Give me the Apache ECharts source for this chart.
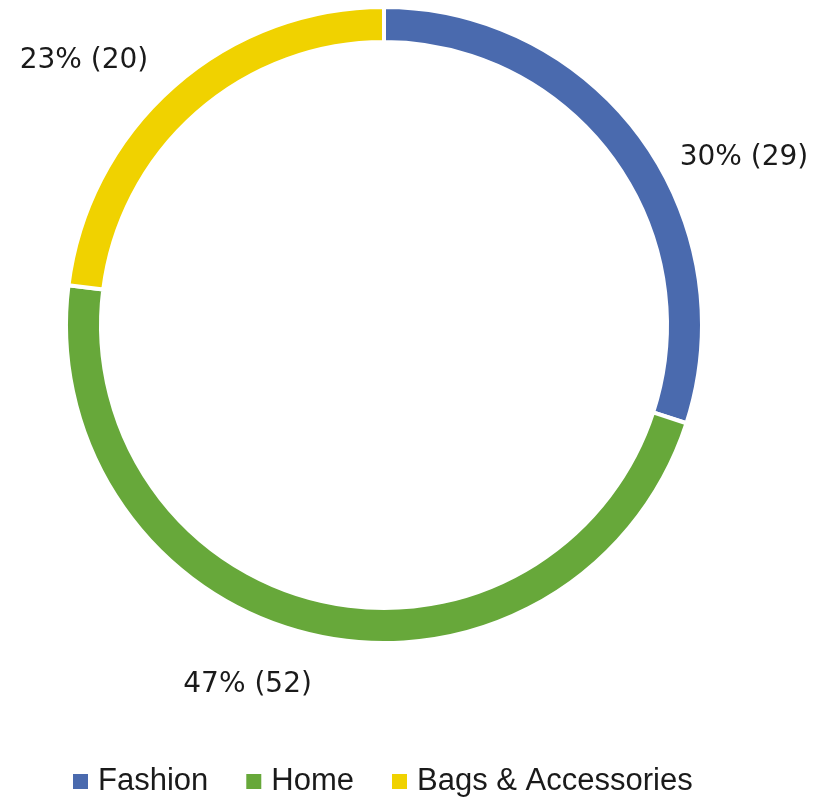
<!DOCTYPE html>
<html>
<head>
<meta charset="utf-8">
<script src="https://cdn.jsdelivr.net/npm/echarts@6/dist/echarts.min.js"></script>
<style>
  html, body { margin: 0; padding: 0; background: #fff; }
  #chart { width: 827px; height: 798px; }
</style>
</head>
<body>
<div id="chart"></div>
<script>
const categories = ['Fashion', 'Home', 'Bags & Accessories'];
const percents = [30, 47, 23];
const counts = [29, 52, 20];
const colors = ['#4a6aae', '#67a83a', '#f0d200'];

const chart = echarts.init(document.getElementById('chart'));

const pieData = categories.map((name, i) => ({
  name,
  value: percents[i],
  itemStyle: { color: colors[i] }
}));

// small nudges so the labels sit where the original put them
function nudgeLabel(params) {
  const i = params.dataIndex;
  if (i === 0) return { dx: 1, dy: 43 };
  if (i === 1) return { dx: 11, dy: 10 };
  return { dx: 6, dy: 4 };
}

chart.setOption({
  animation: false,
  legend: {
    data: categories,
    left: 73,
    top: 766,
    padding: 0,
    icon: 'rect',
    itemWidth: 15,
    itemHeight: 15,
    itemGap: 38,
    itemStyle: { borderWidth: 0 },
    textStyle: {
      fontFamily: 'Liberation Sans',
      fontSize: 31,
      color: '#1a1a1a',
      padding: [0, 0, 0, 5]
    }
  },
  series: [{
    type: 'pie',
    center: [384, 325],
    radius: [283, 318],
    startAngle: 90,
    clockwise: true,
    avoidLabelOverlap: false,
    itemStyle: { borderColor: '#fff', borderWidth: 4 },
    label: {
      show: true,
      position: 'outside',
      fontFamily: 'DejaVu Sans',
      fontSize: 28,
      color: '#1a1a1a',
      formatter: (p) => `${percents[p.dataIndex]}% (${counts[p.dataIndex]})`
    },
    labelLine: { show: false, length: 40, length2: 0 },
    labelLayout: nudgeLabel,
    data: pieData
  }]
});
</script>
</body>
</html>
